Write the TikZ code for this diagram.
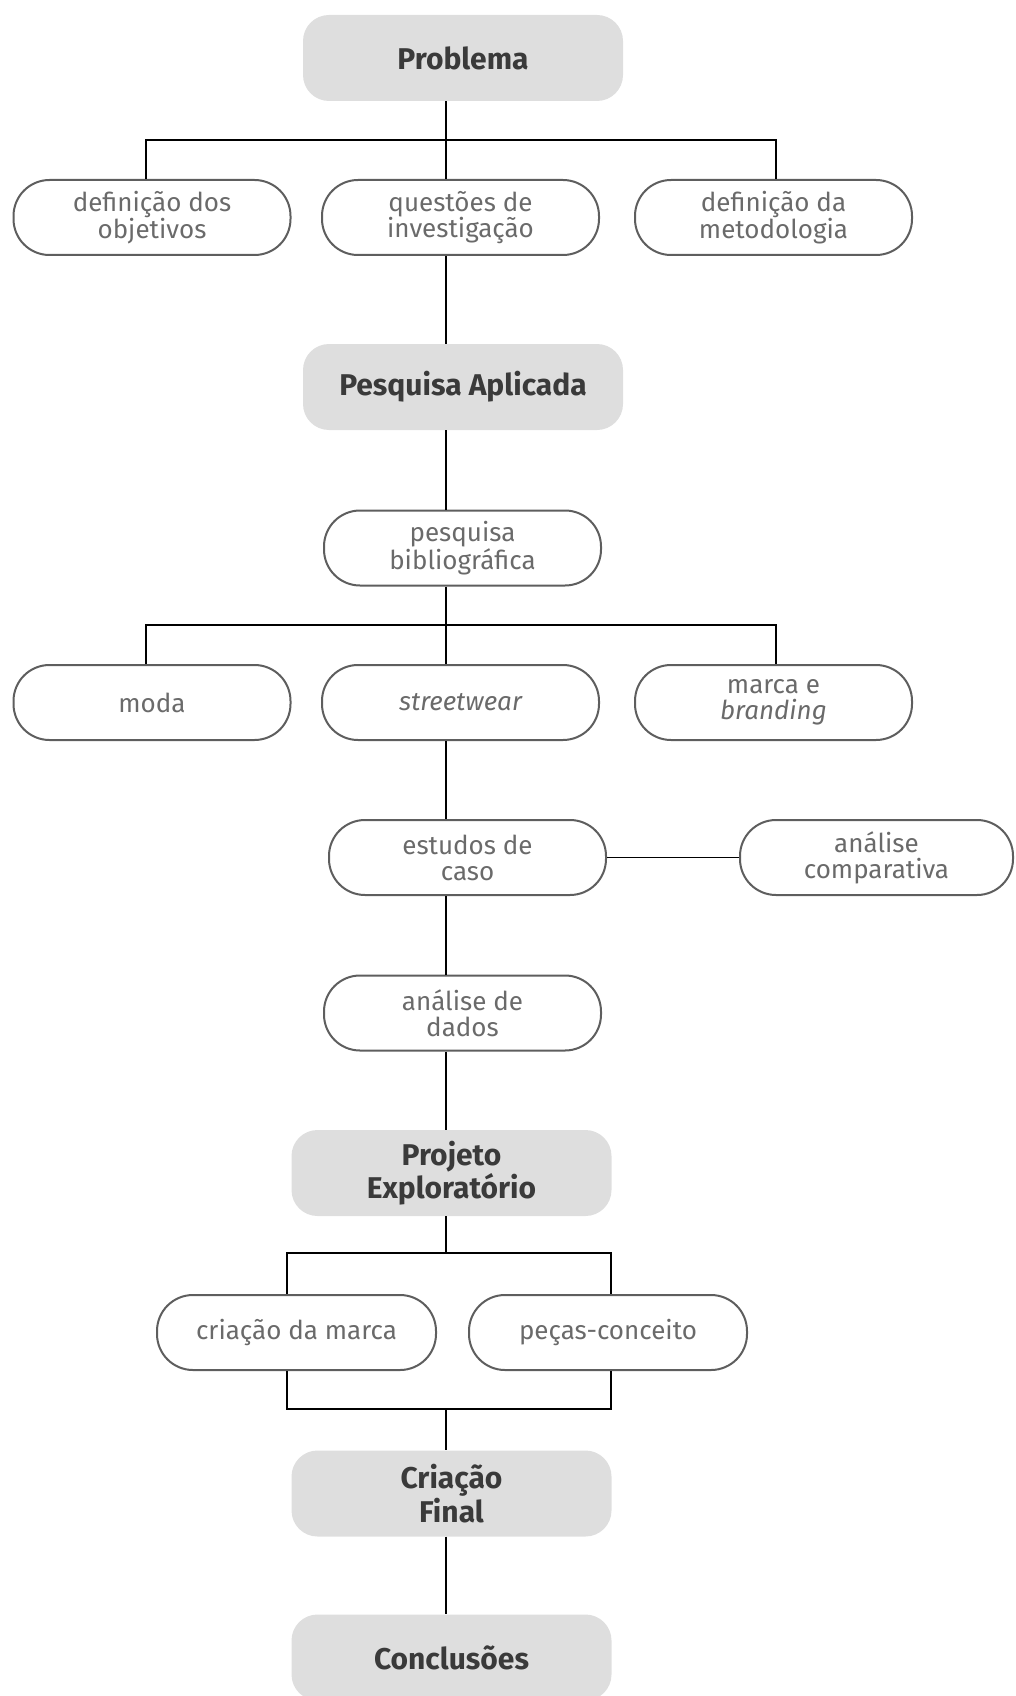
\documentclass[tikz,border=0pt]{standalone}
\usepackage{fontspec}
\setmainfont{Fira Sans}
\usetikzlibrary{calc}
\definecolor{stagefill}{HTML}{DEDEDE}
\definecolor{stagetext}{HTML}{3A3A3A}
\definecolor{itemtext}{HTML}{6A6A6A}
\definecolor{itemline}{HTML}{5E5E5E}
\tikzset{
  stage/.style={fill=stagefill, rounded corners=26pt, text=stagetext,
    align=center, inner sep=0pt, minimum width=320pt, minimum height=86pt,
    font=\fontsize{30}{31}\selectfont\bfseries},
  item/.style={draw=itemline, line width=2pt, rounded corners=36pt, text=itemtext,
    align=center, inner sep=0pt, minimum width=277pt, minimum height=75pt,
    font=\fontsize{26}{26}\selectfont},
  link/.style={line width=1.5pt, black}
}
\begin{document}
\begin{tikzpicture}[x=1pt, y=-1pt]
\useasboundingbox (0,0) rectangle (1015,1696);

% stages and items
\node[stage] (prob) at (463,58) {Problema};
\node[item] (obj)   at (152,217.5)   {definição dos\\objetivos};
\node[item] (quest) at (460.5,217.5) {questões de\\investigação};
\node[item] (met)   at (773.5,217.5) {definição da\\metodologia};

\node[stage] (pesq) at (463,387) {Pesquisa Aplicada};
\node[item] (bib) at (462.5,548) {pesquisa\\bibliográfica};

\node[item] (moda)   at (152,702.5)   {moda};
\node[item] (street) at (460.5,702.5) {\itshape streetwear};
\node[item] (marca)  at (773.5,702.5) {marca e\\\itshape branding};

\node[item] (est)  at (467.5,857.5) {estudos de\\caso};
\node[item, minimum width=273pt] (comp) at (876.5,857.5) {análise\\comparativa};
\node[item] (dados) at (462.5,1013) {análise de\\dados};

\node[stage] (proj) at (451.5,1173) {Projeto\\Exploratório};
\node[item, minimum width=279pt] (criam) at (296.5,1332.5) {criação da marca};
\node[item, minimum width=278pt] (pecas) at (608,1332.5) {peças-conceito};

\node[stage] (final) at (451.5,1493.5) {Criação\\Final};
\node[stage] (concl) at (451.5,1657.5) {Conclusões};

% guide columns for the connectors
\coordinate (sx) at (446,0);
\coordinate (lx) at (146,0);
\coordinate (rx) at (776,0);
\coordinate (pl) at (287,0);
\coordinate (pr) at (611,0);
\coordinate (bar1) at (446,140);
\coordinate (bar2) at (446,625);
\coordinate (bar3) at (446,1253);
\coordinate (bar4) at (446,1409);

% connectors
\draw[link] (prob.south -| sx) -- (quest.north -| sx);
\draw[link] (obj.north -| lx) |- (bar1) -| (met.north -| rx);
\draw[link] (quest.south -| sx) -- (pesq.north -| sx);
\draw[link] (pesq.south -| sx) -- (bib.north -| sx);
\draw[link] (bib.south -| sx) -- (street.north -| sx);
\draw[link] (moda.north -| lx) |- (bar2) -| (marca.north -| rx);
\draw[link] (street.south -| sx) -- (est.north -| sx);
\draw[link] (est.east) -- (comp.west);
\draw[link] (est.south -| sx) -- (dados.north -| sx);
\draw[link] (dados.south -| sx) -- (proj.north -| sx);
\draw[link] (proj.south -| sx) -- (bar3);
\draw[link] (criam.north -| pl) |- (bar3) -| (pecas.north -| pr);
\draw[link] (criam.south -| pl) |- (bar4) -| (pecas.south -| pr);
\draw[link] (bar4) -- (final.north -| sx);
\draw[link] (final.south -| sx) -- (concl.north -| sx);
\end{tikzpicture}
\end{document}
